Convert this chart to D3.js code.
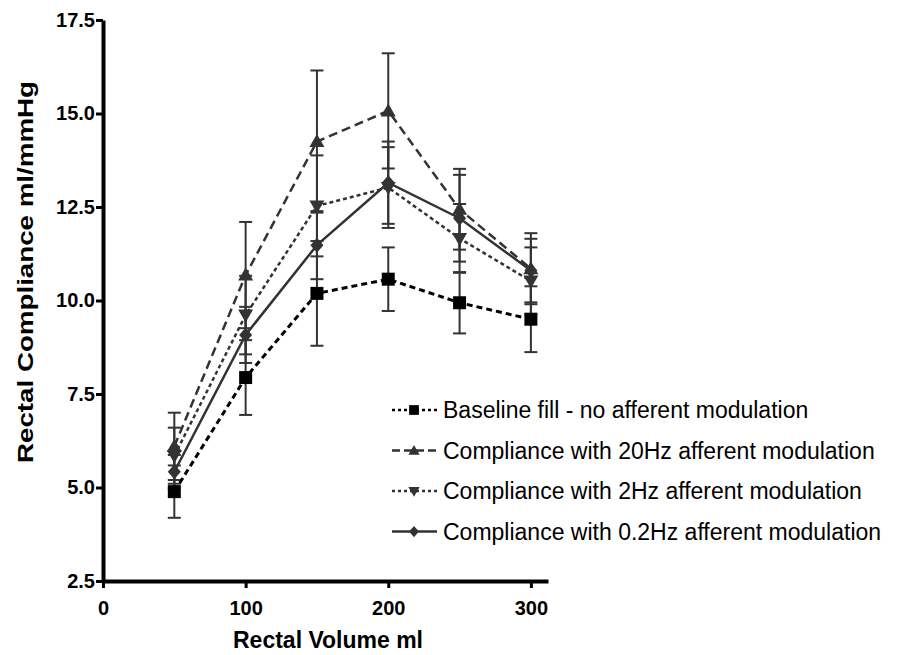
<!DOCTYPE html>
<html>
<head>
<meta charset="utf-8">
<script src="https://d3js.org/d3.v7.min.js"></script>
<style>
  body { margin: 0; background: #fff; }
  text { font-family: "Liberation Sans", Arial, sans-serif; }
</style>
</head>
<body>
<div id="chart"></div>
<script>
// data
var volumes = [50, 100, 150, 200, 250, 300];

var baseMean = [4.89, 7.94, 10.19, 10.57, 9.94, 9.50];
var baseSem  = [0.70, 1.00, 1.40, 0.85, 0.82, 0.88];

var hz20Mean = [6.10, 10.68, 14.25, 15.07, 12.44, 10.85];
var hz20Sem  = [0.90, 1.42, 1.90, 1.54, 1.08, 0.95];

var hz2Mean  = [5.85, 9.61, 12.53, 13.02, 11.66, 10.52];
var hz2Sem   = [0.75, 1.05, 1.35, 1.08, 0.92, 0.90];

var hz02Mean = [5.42, 9.08, 11.48, 13.15, 12.20, 10.80];
var hz02Sem  = [0.45, 0.75, 0.91, 1.10, 1.16, 0.85];

var seriesNames = [
  "Baseline fill - no afferent modulation",
  "Compliance with 20Hz afferent modulation",
  "Compliance with 2Hz afferent modulation",
  "Compliance with 0.2Hz afferent modulation"
];

var yTicks = [2.5, 5.0, 7.5, 10.0, 12.5, 15.0, 17.5];
var xTicks = [0, 100, 200, 300];

var W = 907, H = 655;

var svg = d3.select("#chart").append("svg")
    .attr("width", W)
    .attr("height", H);

var x = d3.scaleLinear().domain([0, 312]).range([103, 548]);
var y = d3.scaleLinear().domain([2.5, 17.5]).range([581, 20]);

var series = [
  { name: seriesNames[0], mean: baseMean, sem: baseSem, dash: "6,4", width: 3, color: "#000", marker: "square" },
  { name: seriesNames[1], mean: hz20Mean, sem: hz20Sem, dash: "9,5", width: 2.5, color: "#333", marker: "up" },
  { name: seriesNames[2], mean: hz2Mean, sem: hz2Sem, dash: "4,3", width: 2.5, color: "#333", marker: "down" },
  { name: seriesNames[3], mean: hz02Mean, sem: hz02Sem, dash: null, width: 2.5, color: "#333", marker: "diamond" }
];

function markerPath(type) {
  if (type === "square") return "M-6.5,-6.5H6.5V6.5H-6.5Z";
  if (type === "up") return "M0,-7.5L7.5,5.5H-7.5Z";
  if (type === "down") return "M0,7.5L7.5,-5.5H-7.5Z";
  return "M0,-7.5L6.5,0L0,7.5L-6.5,0Z";
}

// error bars
series.forEach(function (s) {
  var g = svg.append("g").attr("stroke", "#333").attr("stroke-width", 2);
  volumes.forEach(function (v, i) {
    var lo = y(s.mean[i] - s.sem[i]), hi = y(s.mean[i] + s.sem[i]), cx = x(v);
    g.append("line").attr("x1", cx).attr("x2", cx).attr("y1", lo).attr("y2", hi);
    g.append("line").attr("x1", cx - 6.5).attr("x2", cx + 6.5).attr("y1", lo).attr("y2", lo);
    g.append("line").attr("x1", cx - 6.5).attr("x2", cx + 6.5).attr("y1", hi).attr("y2", hi);
  });
});

// lines
var line = d3.line()
    .x(function (d, i) { return x(volumes[i]); })
    .y(function (d) { return y(d); });

series.forEach(function (s) {
  svg.append("path")
    .datum(s.mean)
    .attr("d", line)
    .attr("fill", "none")
    .attr("stroke", s.color)
    .attr("stroke-width", s.width)
    .attr("stroke-dasharray", s.dash);
});

// markers
series.forEach(function (s) {
  svg.append("g").selectAll("path")
    .data(s.mean)
    .enter()
    .append("path")
    .attr("transform", function (d, i) { return "translate(" + x(volumes[i]) + "," + y(d) + ")"; })
    .attr("d", markerPath(s.marker))
    .attr("fill", s.color);
});

// axes
var yAxis = svg.append("g")
    .attr("transform", "translate(" + x(0) + ",0)")
    .call(d3.axisLeft(y).tickValues(yTicks).tickFormat(d3.format(".1f")).tickSize(7).tickSizeOuter(0));
yAxis.select(".domain").attr("stroke-width", 4);
yAxis.selectAll(".tick line").attr("stroke-width", 3);
yAxis.selectAll(".tick text")
    .attr("x", -8)
    .style("font-family", "'Liberation Sans', Arial, sans-serif")
    .style("font-size", "20px")
    .style("font-weight", "bold")
    .attr("fill", "#000");

var xAxis = svg.append("g")
    .attr("transform", "translate(0," + y(2.5) + ")")
    .call(d3.axisBottom(x).tickValues(xTicks).tickSize(7).tickSizeOuter(0));
xAxis.select(".domain").attr("stroke-width", 4);
xAxis.selectAll(".tick line").attr("stroke-width", 3);
xAxis.selectAll(".tick text")
    .attr("y", 20)
    .style("font-family", "'Liberation Sans', Arial, sans-serif")
    .style("font-size", "20px")
    .style("font-weight", "bold")
    .attr("fill", "#000");

// axis titles
svg.append("text")
    .attr("transform", "translate(33,272) rotate(-90)")
    .attr("text-anchor", "middle")
    .attr("textLength", 382)
    .attr("lengthAdjust", "spacingAndGlyphs")
    .style("font-size", "22px")
    .style("font-weight", "bold")
    .text("Rectal Compliance ml/mmHg");

svg.append("text")
    .attr("x", 328)
    .attr("y", 648)
    .attr("text-anchor", "middle")
    .style("font-size", "23px")
    .style("font-weight", "bold")
    .text("Rectal Volume ml");

// legend
var legend = svg.append("g");
series.forEach(function (s, i) {
  var ly = 410 + i * 40.5;
  legend.append("line")
    .attr("x1", 392).attr("x2", 437)
    .attr("y1", ly).attr("y2", ly)
    .attr("stroke", s.color)
    .attr("stroke-width", 2.5)
    .attr("stroke-dasharray", s.dash === null ? null : (i === 1 ? "8,4" : "3,3"));
  legend.append("path")
    .attr("transform", "translate(414," + ly + ") scale(0.75)")
    .attr("d", markerPath(s.marker))
    .attr("fill", s.color);
  legend.append("text")
    .attr("x", 443)
    .attr("y", ly + 8)
    .style("font-size", "23px")
    .attr("fill", "#000")
    .text(s.name);
});
</script>
</body>
</html>
